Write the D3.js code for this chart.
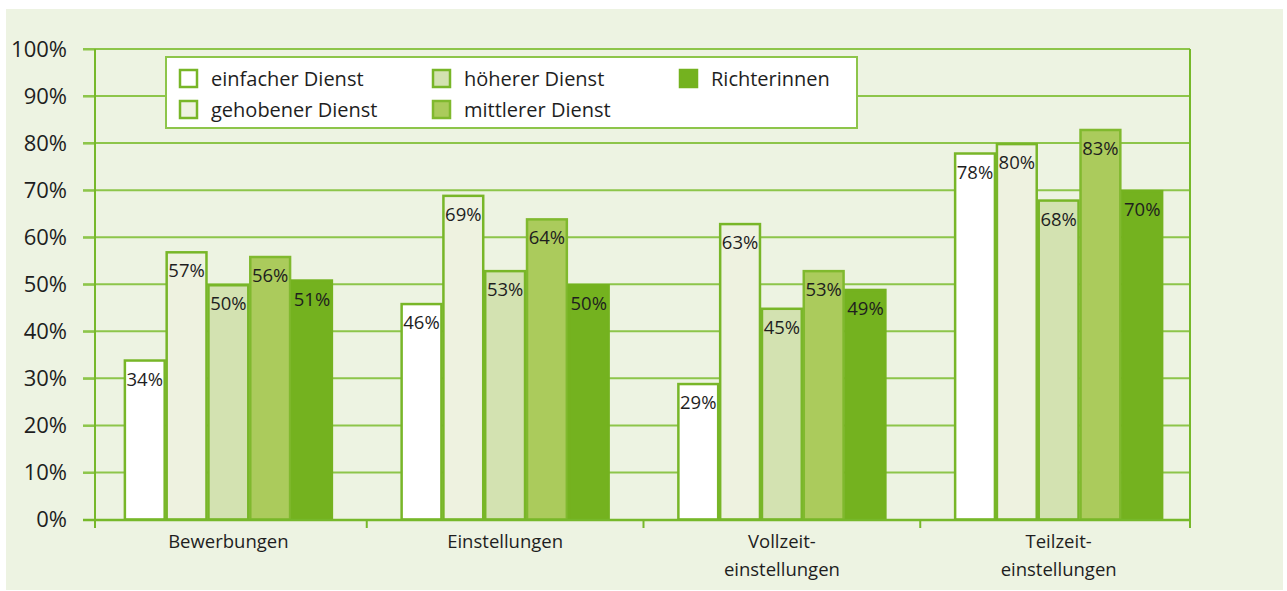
<!DOCTYPE html>
<html>
<head>
<meta charset="utf-8">
<script src="https://cdn.jsdelivr.net/npm/d3@7"></script>
<style>
  body { margin: 0; background: #fff; }
  svg text { font-family: "Open Sans", "Noto Sans", sans-serif; fill: #1e1e1e; }
</style>
</head>
<body>
<svg id="chart" width="1287" height="591"></svg>
<script>
// chart data
const categories = ['Bewerbungen', 'Einstellungen', 'Vollzeit-\neinstellungen', 'Teilzeit-\neinstellungen'];
const seriesNames = ['einfacher Dienst', 'gehobener Dienst', 'höherer Dienst', 'mittlerer Dienst', 'Richterinnen'];
const einfacher = [34, 46, 29, 78];
const gehobener = [57, 69, 63, 80];
const hoeherer = [50, 53, 45, 68];
const mittlerer = [56, 64, 53, 83];
const richterinnen = [51, 50, 49, 70];
const yTicks = [0, 10, 20, 30, 40, 50, 60, 70, 80, 90, 100];

const seriesValues = [einfacher, gehobener, hoeherer, mittlerer, richterinnen];
const fills = ['#ffffff', '#eef2e0', '#d3e2b1', '#abcb5c', '#74b21f'];
const strokes = ['#78b628', '#78b628', '#78b628', '#80b92e', '#74b21f'];

const svg = d3.select('#chart');

// panel background
svg.append('rect')
  .attr('x', 6).attr('y', 9)
  .attr('width', 1277).attr('height', 581)
  .attr('fill', '#edf3e2');

const plot = { left: 95, right: 1190, top: 49, bottom: 519.5 };

const y = d3.scaleLinear().domain([0, 100]).range([plot.bottom, plot.top]);
const x0 = d3.scaleBand().domain(categories).range([90, 1197]);
const x1 = d3.scaleBand().domain(seriesNames).range([0, 209]);
const groupOffset = (x0.bandwidth() - x1.range()[1]) / 2;

// horizontal grid lines
svg.append('g')
  .selectAll('line')
  .data(yTicks.filter(d => d > 0))
  .join('line')
  .attr('x1', 83).attr('x2', plot.right)
  .attr('y1', d => y(d)).attr('y2', d => y(d))
  .attr('stroke', '#8dc54a')
  .attr('stroke-width', 2);

// y axis
const yAxis = svg.append('g')
  .attr('transform', `translate(${plot.left},0)`)
  .call(d3.axisLeft(y).tickValues(yTicks).tickFormat(d => d + '%').tickSize(12).tickPadding(16));
yAxis.select('.domain').remove();
yAxis.selectAll('.tick line').attr('stroke', '#8dc54a').attr('stroke-width', 2);
yAxis.selectAll('.tick text')
  .attr('font-size', 22)
  .style('font-family', '"Open Sans", sans-serif')
  .attr('fill', '#1e1e1e');

// frame verticals
svg.append('g')
  .selectAll('line')
  .data([plot.left, plot.right])
  .join('line')
  .attr('x1', d => d).attr('x2', d => d)
  .attr('y1', plot.top).attr('y2', 528)
  .attr('stroke', '#76b82a')
  .attr('stroke-width', 2);

// bars
const groups = svg.append('g')
  .selectAll('g')
  .data(categories)
  .join('g')
  .attr('transform', d => `translate(${x0(d) + groupOffset},0)`);

groups.selectAll('rect')
  .data((c, ci) => seriesNames.map((s, si) => ({ s, si, v: seriesValues[si][ci] })))
  .join('rect')
  .attr('x', d => x1(d.s) + 1)
  .attr('width', x1.bandwidth() - 2)
  .attr('y', d => y(d.v) + 1)
  .attr('height', d => plot.bottom - y(d.v) - 1)
  .attr('fill', d => fills[d.si])
  .attr('stroke', d => strokes[d.si])
  .attr('stroke-width', 2.5);

groups.selectAll('text')
  .data((c, ci) => seriesNames.map((s, si) => ({ s, si, v: seriesValues[si][ci] })))
  .join('text')
  .attr('x', d => x1(d.s) + x1.bandwidth() / 2)
  .attr('y', d => y(d.v) + 26)
  .attr('text-anchor', 'middle')
  .attr('font-size', 18.5)
  .text(d => d.v + '%');

// x axis line and ticks
svg.append('line')
  .attr('x1', 83).attr('x2', plot.right)
  .attr('y1', 520).attr('y2', 520)
  .attr('stroke', '#76b82a')
  .attr('stroke-width', 2.5);

svg.append('g')
  .selectAll('line')
  .data(categories.slice(1))
  .join('line')
  .attr('x1', d => x0(d)).attr('x2', d => x0(d))
  .attr('y1', 520).attr('y2', 528)
  .attr('stroke', '#76b82a')
  .attr('stroke-width', 2);

// category labels
svg.append('g')
  .selectAll('text')
  .data(categories)
  .join('text')
  .attr('text-anchor', 'middle')
  .attr('font-size', 18.5)
  .attr('transform', d => `translate(${x0(d) + x0.bandwidth() / 2},548)`)
  .selectAll('tspan')
  .data(d => d.split('\n'))
  .join('tspan')
  .attr('x', 0)
  .attr('y', (d, i) => i * 28)
  .text(d => d);

// legend
const legend = svg.append('g');
legend.append('rect')
  .attr('x', 166).attr('y', 57)
  .attr('width', 691).attr('height', 71)
  .attr('fill', '#ffffff')
  .attr('stroke', '#8dc54a')
  .attr('stroke-width', 2);

const legendCols = [180, 433, 680];
const legendRows = [79, 110];
const legendItems = legend.selectAll('g')
  .data(seriesNames)
  .join('g')
  .attr('transform', (d, i) => `translate(${legendCols[Math.floor(i / 2)]},${legendRows[i % 2]})`);

legendItems.append('rect')
  .attr('x', 0).attr('y', -9)
  .attr('width', 17).attr('height', 17)
  .attr('fill', (d, i) => fills[i])
  .attr('stroke', (d, i) => strokes[i])
  .attr('stroke-width', 2.5);

legendItems.append('text')
  .attr('x', 31)
  .attr('dy', '0.35em')
  .attr('font-size', 20)
  .text(d => d);
</script>
</body>
</html>
